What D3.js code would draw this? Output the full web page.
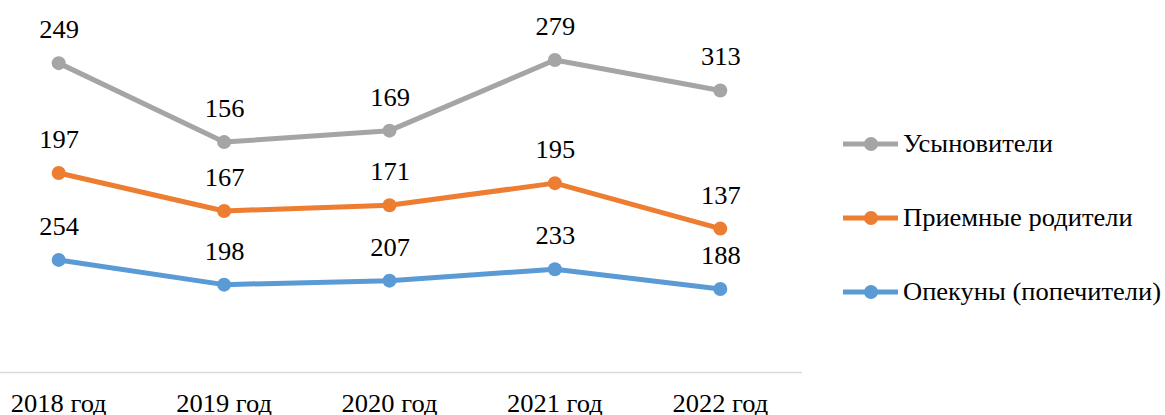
<!DOCTYPE html>
<html>
<head>
<meta charset="utf-8">
<script src="https://cdn.jsdelivr.net/npm/d3@7"></script>
</head>
<body style="margin:0">
<svg id="chart" width="1165" height="415" font-family="Liberation Serif"></svg>
<script>
var years = ['2018 год', '2019 год', '2020 год', '2021 год', '2022 год'];
var seriesNames = ['Опекуны (попечители)', 'Приемные родители', 'Усыновители'];
var guardians = [254, 198, 207, 233, 188];
var fosterParents = [197, 167, 171, 195, 137];
var adopters = [249, 156, 169, 279, 313];
var colors = ['#5b9bd5', '#ed7d31', '#a5a5a5'];

var svg = d3.select('#chart');

function styleText(sel) {
	return sel
		.attr('font-family', 'Liberation Serif')
		.attr('font-size', 25)
		.style('font-family', "'Liberation Serif', 'Times New Roman', serif")
		.style('font-size', '25px')
		.attr('fill', '#000');
}

// the original text is set a little wider than the font's natural width
function widen(sel) {
	sel.each(function() {
		var w = this.getComputedTextLength();
		if (w > 0) {
			d3.select(this)
				.attr('textLength', w * 1.06)
				.attr('lengthAdjust', 'spacingAndGlyphs');
		}
	});
}

// stacked line chart: each series sits on top of the previous one
var rows = years.map(function(y, i) {
	return { year: y, s0: guardians[i], s1: fosterParents[i], s2: adopters[i] };
});
var stack = d3.stack().keys(['s0', 's1', 's2']);
var layers = stack(rows);

var x = d3.scaleBand()
	.domain(years)
	.range([-24, 803])
	.padding(0);

var y = d3.scaleLinear()
	.domain([0, 800])
	.range([372, 19]);

function cx(d) { return x(d.data.year) + x.bandwidth() / 2; }

// category axis
var axis = svg.append('g')
	.attr('transform', 'translate(0,372)')
	.call(d3.axisBottom(x).tickSize(0).tickPadding(0));
axis.select('.domain').remove();
axis.selectAll('text')
	.attr('dy', null)
	.attr('y', 40)
	.call(styleText)
	.call(widen);

svg.append('line')
	.attr('x1', 0).attr('x2', 802)
	.attr('y1', 372.5).attr('y2', 372.5)
	.attr('stroke', '#d9d9d9')
	.attr('stroke-width', 1.5);

var line = d3.line()
	.x(cx)
	.y(function(d) { return y(d[1]); });

layers.forEach(function(layer, i) {
	svg.append('path')
		.datum(layer)
		.attr('d', line)
		.attr('fill', 'none')
		.attr('stroke', colors[i])
		.attr('stroke-width', 5)
		.attr('stroke-linejoin', 'round');

	svg.selectAll('.dot-' + i).data(layer).enter().append('circle')
		.attr('class', 'dot-' + i)
		.attr('cx', cx)
		.attr('cy', function(d) { return y(d[1]); })
		.attr('r', 7)
		.attr('fill', colors[i]);
});

// value labels
layers.forEach(function(layer, i) {
	svg.selectAll('.label-' + i).data(layer).enter().append('text')
		.attr('class', 'label-' + i)
		.attr('x', function(d) { return cx(d) + 0.5; })
		.attr('y', function(d) { return y(d[1]) - 25; })
		.attr('text-anchor', 'middle')
		.call(styleText)
		.text(function(d) { return d[1] - d[0]; })
		.call(widen);
});

// legend
var legendRows = [2, 1, 0];
legendRows.forEach(function(k, j) {
	var ly = 144 + j * 74;
	svg.append('line')
		.attr('x1', 843).attr('x2', 898)
		.attr('y1', ly).attr('y2', ly)
		.attr('stroke', colors[k])
		.attr('stroke-width', 5);
	svg.append('circle')
		.attr('cx', 871).attr('cy', ly).attr('r', 7)
		.attr('fill', colors[k]);
	svg.append('text')
		.attr('x', 903).attr('y', ly + 8)
		.call(styleText)
		.text(seriesNames[k])
		.call(widen);
});
</script>
</body>
</html>
